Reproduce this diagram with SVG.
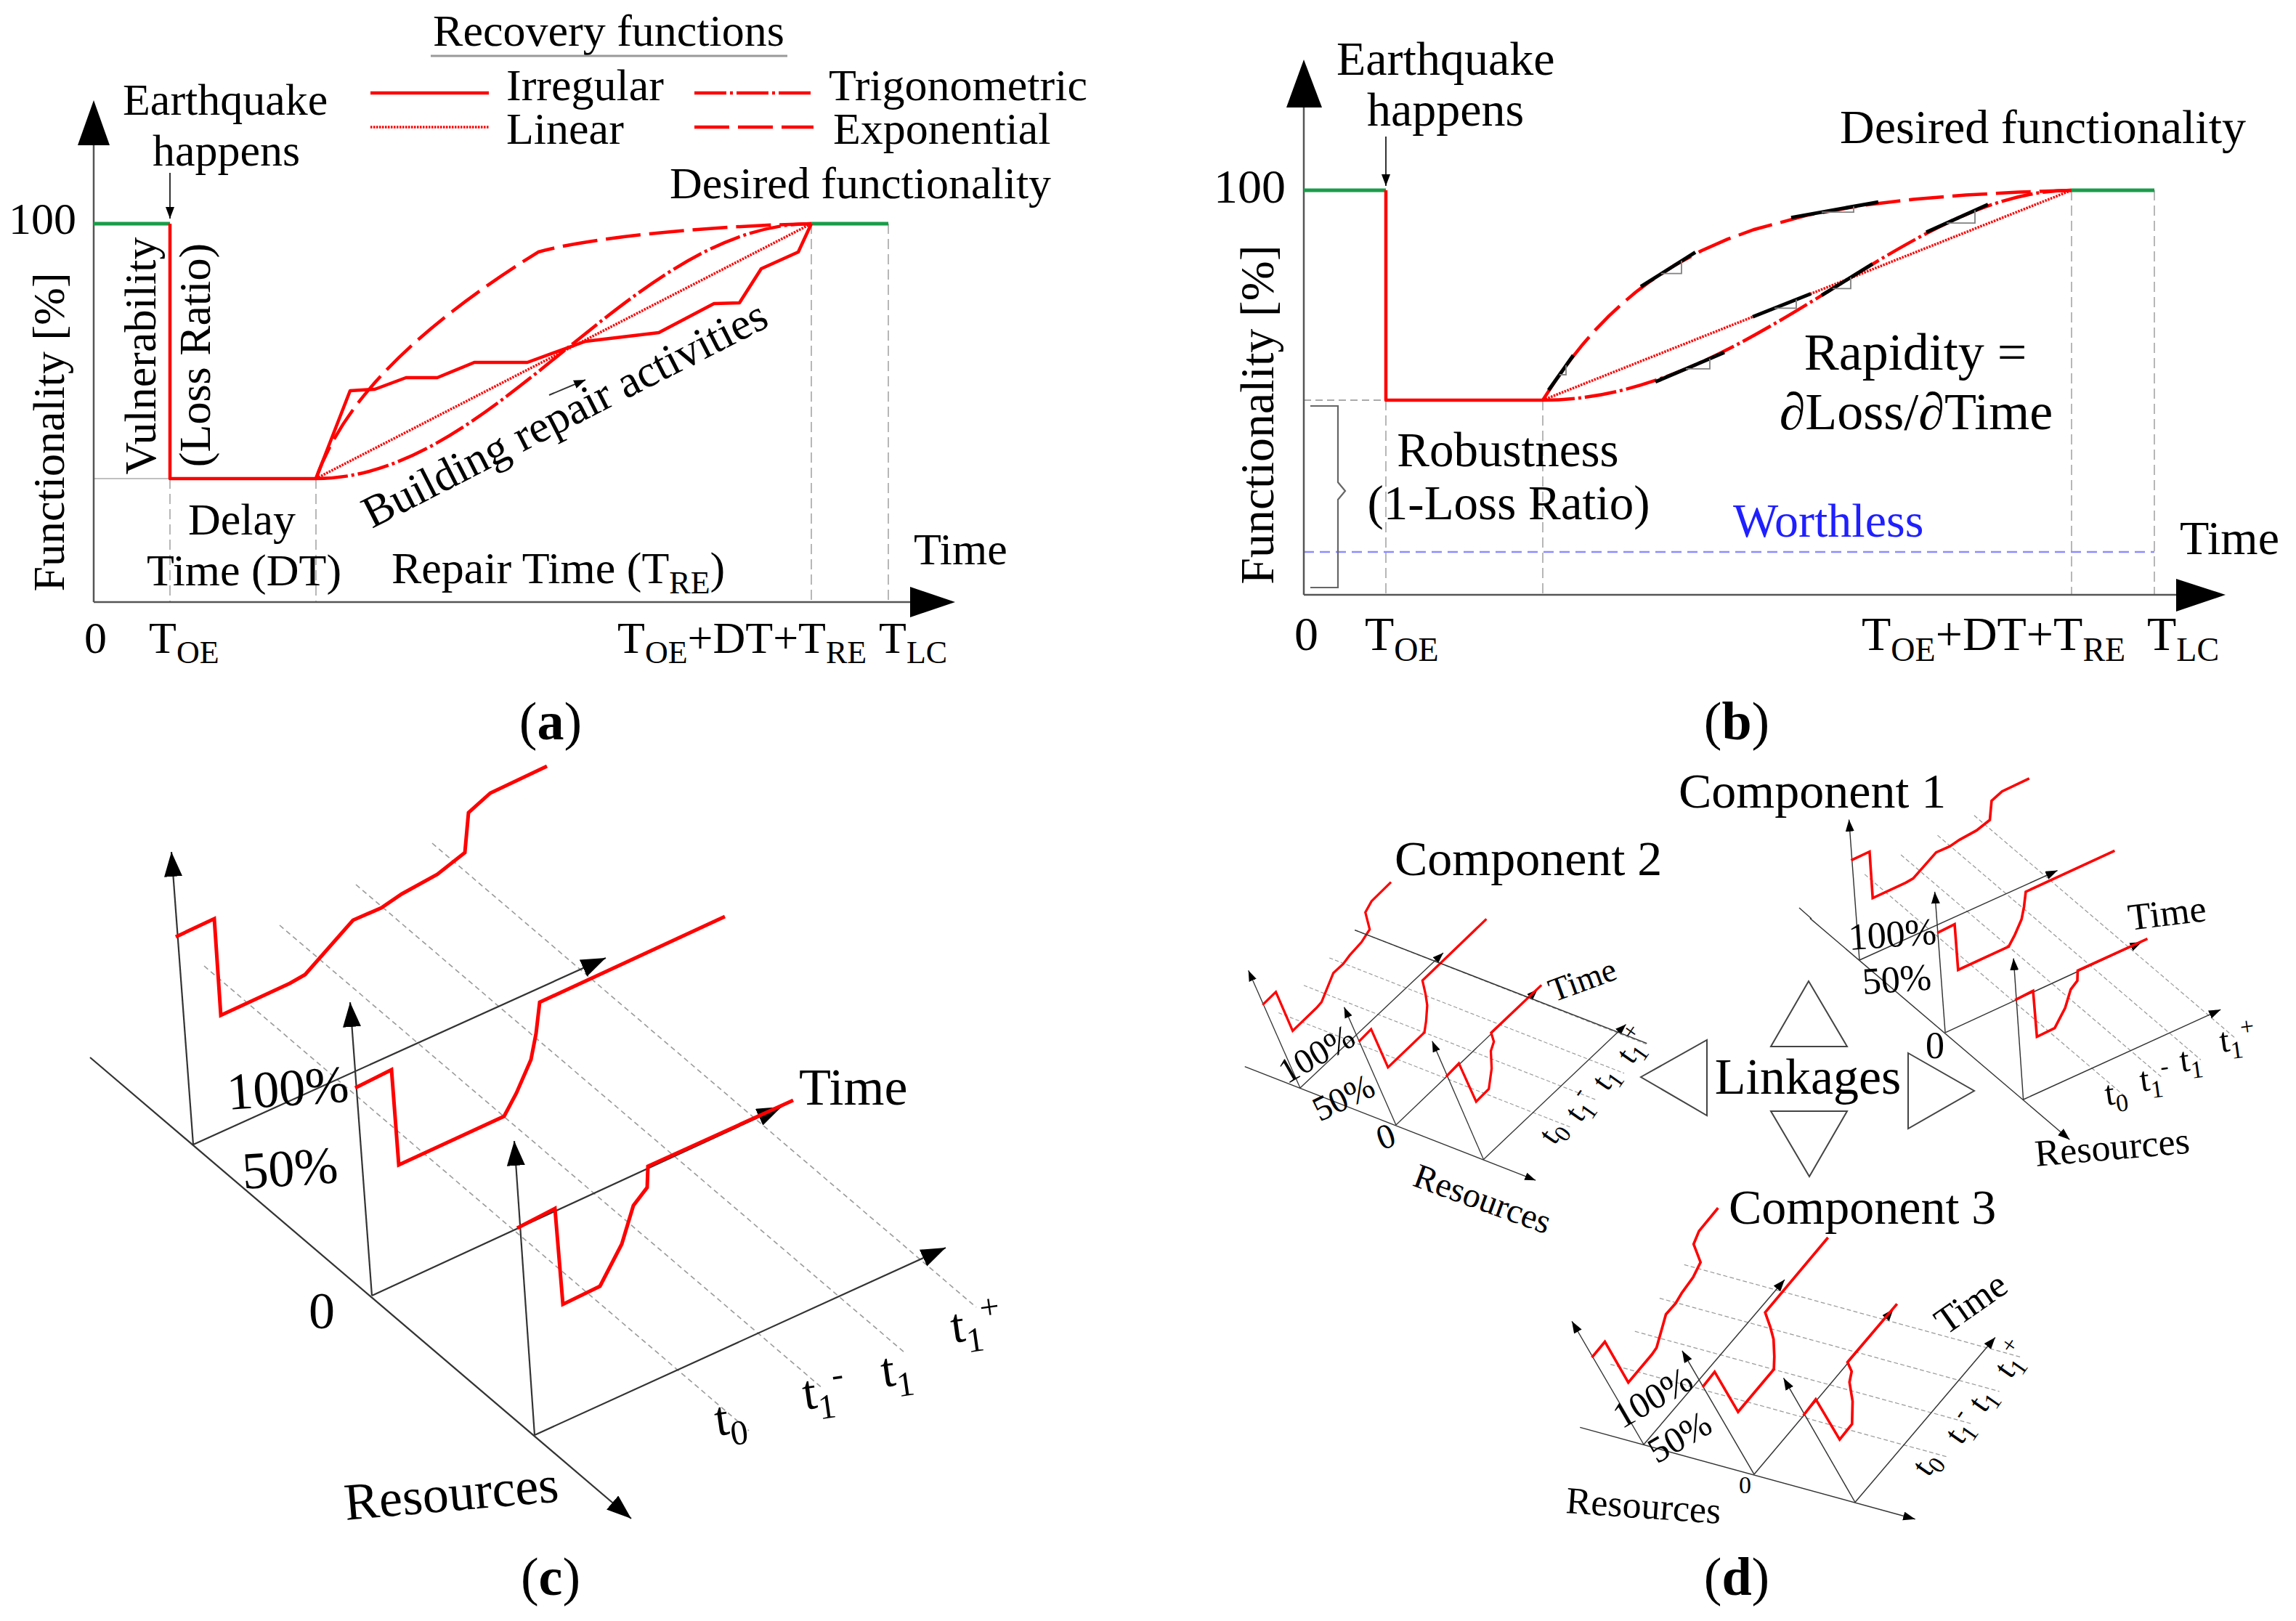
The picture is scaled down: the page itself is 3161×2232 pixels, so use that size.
<svg xmlns="http://www.w3.org/2000/svg" width="3161" height="2232" viewBox="0 0 3161 2232">
<style>
text{font-family:"Liberation Serif","Times New Roman",serif;fill:#000}
.fa{font-size:62px}
.fb{font-size:66px}
.fc{font-size:72px}
.ax{stroke:#555;stroke-width:2.5;fill:none}
.gd{stroke:#b0b0b0;stroke-width:1.8;stroke-dasharray:14 7;fill:none}
.grn{stroke:#1a9c4a;stroke-width:5;fill:none}
.irr{stroke:#f00;stroke-width:4.5;fill:none;stroke-linejoin:round}
.lin{stroke:#f00;stroke-width:3.5;stroke-dasharray:2.5 1.5;fill:none}
.trig{stroke:#f00;stroke-width:4.5;stroke-dasharray:44 5 4 5;fill:none}
.expo{stroke:#f00;stroke-width:4.5;stroke-dasharray:48 12;fill:none}
.tan{stroke:#000;stroke-width:5;fill:none}
.tri{stroke:#808080;stroke-width:1.8;fill:none}
.c3ax{stroke:#333;stroke-width:var(--aw,2.2);fill:none}
.c3d{stroke:#9a9a9a;stroke-width:var(--dw,1.6);stroke-dasharray:var(--da,7 5);fill:none}
.c3r{stroke:#f00;stroke-width:var(--rw,5);fill:none;stroke-linejoin:miter}
.lk{stroke:#444;stroke-width:2;fill:none}
</style>
<defs>
<marker id="ah" markerUnits="userSpaceOnUse" markerWidth="36" markerHeight="26" refX="34" refY="12.5" orient="auto"><path d="M0,0 L34,12.5 L0,25 z" fill="#000"/></marker>
<marker id="ahs" markerUnits="userSpaceOnUse" markerWidth="18" markerHeight="12" refX="16" refY="6" orient="auto"><path d="M0,0 L16,6 L0,12 z" fill="#000"/></marker>
<g id="rgraph">
 <g class="c3d">
  <line x1="281" y1="1330" x2="1031" y2="1970"/>
  <line x1="385" y1="1274" x2="1133" y2="1912"/>
  <line x1="490" y1="1218" x2="1245" y2="1862"/>
  <line x1="595" y1="1161" x2="1344" y2="1800"/>
 </g>
 <g class="c3ax" marker-end="url(#ah)">
  <line x1="124" y1="1456" x2="869" y2="2091"/>
  <line x1="266" y1="1576" x2="236" y2="1173"/>
  <line x1="512" y1="1784" x2="482" y2="1380"/>
  <line x1="736" y1="1976" x2="708" y2="1571"/>
  <line x1="266" y1="1576" x2="834" y2="1319"/>
  <line x1="512" y1="1784" x2="1076" y2="1524"/>
  <line x1="736" y1="1976" x2="1302" y2="1718"/>
 </g>
 <g class="c3r">
  <polyline points="242,1290 295,1265 304,1398 399,1354 420,1342 486,1267 525,1250 553,1231 602,1204 640,1174 645,1119 675,1092 753,1055"/>
  <polyline points="489,1498 539,1473 549,1604 694,1537 711,1505 731,1459 738,1423 743,1380 998,1262"/>
  <polyline points="712,1691 764,1664 775,1796 826,1771 856,1713 872,1660 891,1635 892,1606 1092,1515"/>
 </g>
</g>
</defs>
<rect width="3161" height="2232" fill="#fff"/>

<!-- ================= Panel (a) ================= -->
<g id="panel-a">
 <g id="a-connectors">
  <line x1="129" y1="659" x2="234" y2="659" stroke="#c0c0c0" stroke-width="2"/>
  <g class="gd">
   <line x1="234" y1="659" x2="234" y2="829"/>
   <line x1="435" y1="659" x2="435" y2="829"/>
   <line x1="1117" y1="308" x2="1117" y2="829"/>
   <line x1="1223" y1="308" x2="1223" y2="829"/>
  </g>
  <line class="ax" x1="129" y1="829" x2="129" y2="195"/>
  <line class="ax" x1="129" y1="829" x2="1258" y2="829"/>
  <polygon points="129,138 107,200 151,200" fill="#000"/>
  <polygon points="1315,829 1253,808 1253,850" fill="#000"/>
  <line x1="234" y1="238" x2="234" y2="301" stroke="#333" stroke-width="2" marker-end="url(#ahs)"/>
  <line x1="756" y1="544" x2="806" y2="523" stroke="#333" stroke-width="2" marker-end="url(#ahs)"/>
 </g>
 <g id="a-curves">
  <line class="grn" x1="129" y1="308" x2="234" y2="308"/>
  <line class="grn" x1="1117" y1="308" x2="1223" y2="308"/>
  <path class="lin" d="M435,659 L1117,308"/>
  <path class="trig" d="M435,659 C683.4,659 868.6,308 1117,308"/>
  <path class="expo" d="M435,659 C470,560 560,460 741,347 C800,330 950,312 1117,308"/>
  <polyline class="irr" points="435,659 482,538 516,536 559,520 602,520 653,499 726,499 806,470 907,458 983,418 1018,417 1048,370 1099,347 1117,308"/>
  <polyline class="irr" points="234,308 234,659 435,659"/>
 </g>
 <g id="a-legend">
  <text class="fa" x="838" y="63" text-anchor="middle">Recovery functions</text>
  <line x1="593" y1="77" x2="1084" y2="77" stroke="#999" stroke-width="3"/>
  <line class="irr" x1="510" y1="128" x2="673" y2="128"/>
  <line class="lin" x1="510" y1="175" x2="673" y2="175"/>
  <line class="trig" x1="956" y1="128" x2="1120" y2="128"/>
  <line class="expo" x1="956" y1="175" x2="1120" y2="175"/>
  <text class="fa" x="697" y="138">Irregular</text>
  <text class="fa" x="697" y="198">Linear</text>
  <text class="fa" x="1141" y="138">Trigonometric</text>
  <text class="fa" x="1147" y="198">Exponential</text>
 </g>
 <g id="a-labels" class="fa">
  <text x="169" y="158">Earthquake</text>
  <text x="210" y="228">happens</text>
  <text x="12" y="322">100</text>
  <text transform="translate(88,595) rotate(-90)" text-anchor="middle">Functionality [%]</text>
  <text transform="translate(214,490) rotate(-90)" text-anchor="middle">Vulnerability</text>
  <text transform="translate(289,489) rotate(-90)" text-anchor="middle">(Loss Ratio)</text>
  <text x="333" y="736" text-anchor="middle">Delay</text>
  <text x="336" y="806" text-anchor="middle">Time (DT)</text>
  <text x="539" y="803">Repair Time (T<tspan font-size="44" dy="14">RE</tspan><tspan dy="-14">)</tspan></text>
  <text x="1258" y="777">Time</text>
  <text x="922" y="273">Desired functionality</text>
  <text transform="translate(512,728) rotate(-27)">Building repair activities</text>
  <text x="116" y="899">0</text>
  <text x="205" y="899">T<tspan font-size="44" dy="14">OE</tspan></text>
  <text x="850" y="899">T<tspan font-size="44" dy="14">OE</tspan><tspan dy="-14">+DT+T</tspan><tspan font-size="44" dy="14">RE</tspan></text>
  <text x="1210" y="899">T<tspan font-size="44" dy="14">LC</tspan></text>
 </g>
 <text x="758" y="1018" font-size="74" text-anchor="middle">(<tspan font-weight="bold">a</tspan>)</text>
</g>

<!-- ================= Panel (b) ================= -->
<g id="panel-b">
 <g id="b-connectors">
  <line x1="1795" y1="551" x2="1908" y2="551" stroke="#aaa" stroke-width="1.8" stroke-dasharray="10 6"/>
  <g class="gd">
   <line x1="1908" y1="551" x2="1908" y2="819"/>
   <line x1="2124" y1="551" x2="2124" y2="819"/>
   <line x1="2852" y1="262" x2="2852" y2="819"/>
   <line x1="2966" y1="262" x2="2966" y2="819"/>
  </g>
  <line x1="1795" y1="760" x2="2966" y2="760" stroke="#8c8cff" stroke-width="2.5" stroke-dasharray="14 8"/>
  <line class="ax" x1="1795" y1="819" x2="1795" y2="142"/>
  <line class="ax" x1="1795" y1="819" x2="3000" y2="819"/>
  <polygon points="1795,82 1771,148 1820,148" fill="#000"/>
  <polygon points="3064,819 2996,797 2996,842" fill="#000"/>
  <line x1="1908" y1="188" x2="1908" y2="256" stroke="#333" stroke-width="2" marker-end="url(#ahs)"/>
  <path d="M1804,559 H1842 V664 L1852,676 L1842,688 V809 H1804" stroke="#666" stroke-width="2.2" fill="none"/>
 </g>
 <g id="b-curves">
  <line class="grn" x1="1795" y1="262" x2="1908" y2="262"/>
  <line class="grn" x1="2852" y1="262" x2="2966" y2="262"/>
  <path class="lin" d="M2124,551 L2852,262"/>
  <path class="trig" d="M2124,551 C2410,551 2620,262 2852,262"/>
  <polyline class="expo" points="2124,551 2142.2,523 2160.4,497.6 2178.6,474.7 2196.8,453.9 2215,435.2 2233.2,418.2 2251.4,402.8 2269.6,388.9 2306,364.9 2342.4,345.3 2378.8,329.2 2415.2,316 2488,296.4 2560.8,283.3 2633.6,274.5 2706.4,268.6 2779.2,264.6 2852,262"/>
  <polyline class="irr" points="1908,262 1908,551 2124,551"/>
  <g class="tan">
   <line x1="2132" y1="537.3" x2="2166" y2="489.3"/>
   <line x1="2259" y1="394.6" x2="2334" y2="347.4"/>
   <line x1="2466" y1="299.6" x2="2586" y2="278.2"/>
   <line x1="2413" y1="436.3" x2="2493" y2="404.5"/>
   <line x1="2279" y1="525.8" x2="2374" y2="485.3"/>
   <line x1="2508" y1="406.6" x2="2578" y2="363.4"/>
   <line x1="2652" y1="319.8" x2="2737" y2="281.5"/>
  </g>
  <g class="tri">
   <path d="M2147,516 H2156 V503"/>
   <path d="M2287,376.7 H2315 V359"/>
   <path d="M2508,292.1 H2552 V284.3"/>
   <path d="M2443,424.4 H2473 V412.5"/>
   <path d="M2321,507.8 H2354 V493.7"/>
   <path d="M2523,397.3 H2548 V381.9"/>
   <path d="M2680,307.2 H2719 V289.6"/>
  </g>
 </g>
 <g id="b-labels" class="fb">
  <text x="1840" y="103">Earthquake</text>
  <text x="1882" y="173">happens</text>
  <text x="1671" y="279">100</text>
  <text transform="translate(1753,571) rotate(-90)" text-anchor="middle">Functionality [%]</text>
  <text x="2533" y="197">Desired functionality</text>
  <text x="2637" y="509" font-size="72" text-anchor="middle">Rapidity =</text>
  <text x="2638" y="591" font-size="72" text-anchor="middle">∂Loss/∂Time</text>
  <text x="2076" y="642" font-size="67" text-anchor="middle">Robustness</text>
  <text x="2077" y="715" font-size="67" text-anchor="middle">(1-Loss Ratio)</text>
  <text x="2386" y="739" style="fill:#1f1fff">Worthless</text>
  <text x="3001" y="763">Time</text>
  <text x="1782" y="895">0</text>
  <text x="1879" y="895">T<tspan font-size="46" dy="15">OE</tspan></text>
  <text x="2563" y="895">T<tspan font-size="46" dy="15">OE</tspan><tspan dy="-15">+DT+T</tspan><tspan font-size="46" dy="15">RE</tspan></text>
  <text x="2956" y="895">T<tspan font-size="46" dy="15">LC</tspan></text>
 </g>
 <text x="2391" y="1018" font-size="74" text-anchor="middle">(<tspan font-weight="bold">b</tspan>)</text>
</g>

<!-- ================= Panel (c) ================= -->
<g id="panel-c">
 <use href="#rgraph"/>
 <g id="c-labels" class="fc">
  <text x="314" y="1528" transform="rotate(-4 314 1528)">100%</text>
  <text x="335" y="1637" transform="rotate(-4 335 1637)">50%</text>
  <text x="425" y="1829">0</text>
  <text x="1100" y="1521">Time</text>
  <text x="987" y="1977" font-size="68" transform="rotate(-8 987 1977)">t<tspan font-size="48" dy="16">0</tspan></text>
  <text x="1108" y="1941" font-size="68" transform="rotate(-8 1108 1941)">t<tspan font-size="48" dy="16">1</tspan><tspan font-size="48" dy="-42">-</tspan></text>
  <text x="1216" y="1910" font-size="68" transform="rotate(-8 1216 1910)">t<tspan font-size="48" dy="16">1</tspan></text>
  <text x="1312" y="1849" font-size="68" transform="rotate(-8 1312 1849)">t<tspan font-size="48" dy="16">1</tspan><tspan font-size="48" dy="-42">+</tspan></text>
  <text x="476" y="2093" transform="rotate(-5 476 2093)">Resources</text>
 </g>
 <text x="758" y="2196" font-size="74" text-anchor="middle">(<tspan font-weight="bold">c</tspan>)</text>
</g>

<!-- ================= Panel (d) ================= -->
<g id="panel-d">
 <g id="component-1">
  <line x1="2477" y1="1250" x2="2494" y2="1265" stroke="#333" stroke-width="1.4"/>
  <use href="#rgraph" transform="matrix(0.48,0,0,0.48,2432.3,565.5)" style="--aw:3;--dw:2.6;--rw:7.5;--da:12 7"/>
  <text x="2311" y="1112" font-size="68">Component 1</text>
  <g font-size="52">
   <text x="2546" y="1308" transform="rotate(-4 2546 1308)">100%</text>
   <text x="2565" y="1369" transform="rotate(-4 2565 1369)">50%</text>
   <text x="2651" y="1457">0</text>
   <text x="2932" y="1281" transform="rotate(-7 2932 1281)">Time</text>
   <text x="2803" y="1606" transform="rotate(-5 2803 1606)">Resources</text>
  </g>
  <g font-size="48">
   <text x="2900" y="1522" transform="rotate(-8 2900 1522)">t<tspan font-size="34" dy="11">0</tspan></text>
   <text x="2948" y="1503" transform="rotate(-8 2948 1503)">t<tspan font-size="34" dy="11">1</tspan><tspan font-size="34" dy="-30">-</tspan></text>
   <text x="3003" y="1476" transform="rotate(-8 3003 1476)">t<tspan font-size="34" dy="11">1</tspan></text>
   <text x="3058" y="1449" transform="rotate(-8 3058 1449)">t<tspan font-size="34" dy="11">1</tspan><tspan font-size="34" dy="-30">+</tspan></text>
  </g>
 </g>
 <g id="component-2">
  <use href="#rgraph" transform="matrix(0.413,-0.141,0.146,0.412,1450,886.2)" style="--aw:3;--dw:2.6;--rw:7.5;--da:12 7"/>
  <line x1="595" y1="1161" x2="1344" y2="1796" transform="matrix(0.413,-0.141,0.146,0.412,1450,886.2)" stroke="#333" stroke-width="3.5"/>
  <text x="1920" y="1205" font-size="68">Component 2</text>
  <g font-size="48">
   <text x="1772" y="1493" transform="rotate(-30 1772 1493)">100%</text>
   <text x="1817" y="1545" transform="rotate(-26 1817 1545)">50%</text>
   <text x="1902" y="1584" transform="rotate(-20 1902 1584)">0</text>
   <text x="2139" y="1380" font-size="46" transform="rotate(-20 2139 1380)">Time</text>
   <text x="1943" y="1632" transform="rotate(20 1943 1632)">Resources</text>
  </g>
  <g font-size="44">
   <text x="2140" y="1578" transform="rotate(-55 2140 1578)">t<tspan font-size="32" dy="10">0</tspan></text>
   <text x="2176" y="1547" transform="rotate(-55 2176 1547)">t<tspan font-size="32" dy="10">1</tspan><tspan font-size="32" dy="-28">-</tspan></text>
   <text x="2213" y="1504" transform="rotate(-55 2213 1504)">t<tspan font-size="32" dy="10">1</tspan></text>
   <text x="2247" y="1467" transform="rotate(-55 2247 1467)">t<tspan font-size="32" dy="10">1</tspan><tspan font-size="32" dy="-28">+</tspan></text>
  </g>
 </g>
 <g id="component-3">
  <use href="#rgraph" transform="matrix(0.4379,-0.2022,0.2129,0.4363,1811,1355.2)" style="--aw:3;--dw:2.6;--rw:7.5;--da:12 7"/>
  <text x="2380" y="1685" font-size="68">Component 3</text>
  <g font-size="50">
   <text x="2233" y="1968" transform="rotate(-30 2233 1968)">100%</text>
   <text x="2281" y="2016" transform="rotate(-30 2281 2016)">50%</text>
   <text x="2394" y="2056" font-size="34">0</text>
   <text x="2679" y="1839" font-size="52" transform="rotate(-35 2679 1839)">Time</text>
   <text x="2155" y="2083" font-size="52" transform="rotate(4 2155 2083)">Resources</text>
  </g>
  <g font-size="46">
   <text x="2655" y="2035" transform="rotate(-55 2655 2035)">t<tspan font-size="33" dy="10">0</tspan></text>
   <text x="2700" y="1991" transform="rotate(-55 2700 1991)">t<tspan font-size="33" dy="10">1</tspan><tspan font-size="33" dy="-28">-</tspan></text>
   <text x="2732" y="1947" transform="rotate(-55 2732 1947)">t<tspan font-size="33" dy="10">1</tspan></text>
   <text x="2768" y="1900" transform="rotate(-55 2768 1900)">t<tspan font-size="33" dy="10">1</tspan><tspan font-size="33" dy="-28">+</tspan></text>
  </g>
 </g>
 <g id="linkages">
  <text x="2489" y="1506" font-size="70" text-anchor="middle">Linkages</text>
  <polygon class="lk" points="2490,1351 2543,1441 2438,1441"/>
  <polygon class="lk" points="2438,1530 2543,1530 2491,1620"/>
  <polygon class="lk" points="2259,1483 2350,1432 2350,1536"/>
  <polygon class="lk" points="2627,1450 2718,1502 2627,1554"/>
 </g>
 <text x="2391" y="2196" font-size="74" text-anchor="middle">(<tspan font-weight="bold">d</tspan>)</text>
</g>
</svg>
